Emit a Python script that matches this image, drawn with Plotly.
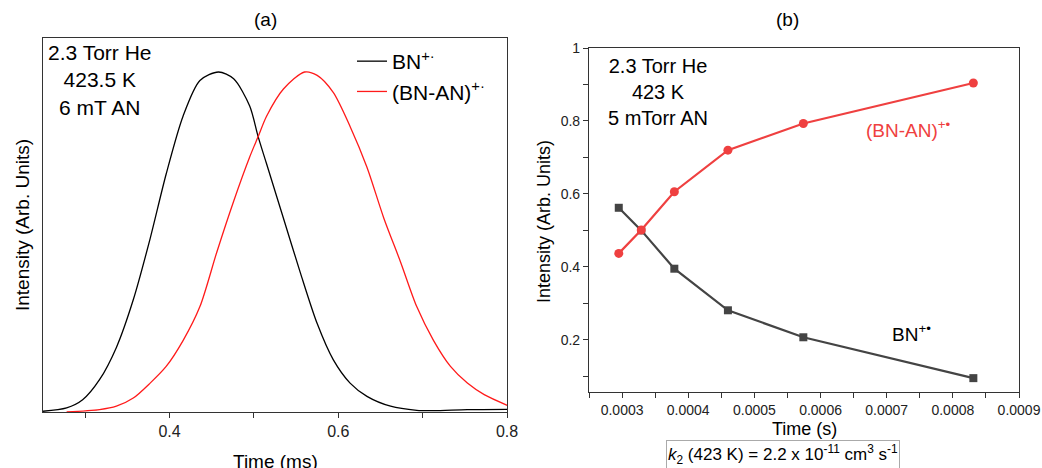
import plotly.graph_objects as go

# ---------- Panel (a) data: arrival-time distributions ----------
bn_t = [0.249, 0.278, 0.297, 0.317, 0.337, 0.357, 0.377, 0.396, 0.416, 0.436, 0.458,
        0.476, 0.495, 0.505, 0.515, 0.535, 0.555, 0.575, 0.594, 0.614, 0.634, 0.662,
        0.693, 0.713, 0.753, 0.801]
bn_i = [0.002, 0.012, 0.036, 0.095, 0.19, 0.33, 0.51, 0.70, 0.87, 0.975, 1.0,
        0.98, 0.90, 0.81, 0.73, 0.57, 0.41, 0.26, 0.154, 0.085, 0.046, 0.017,
        0.005, 0.004, 0.007, 0.008]
bnan_t = [0.278, 0.317, 0.337, 0.357, 0.377, 0.396, 0.416, 0.436, 0.456, 0.476, 0.495,
          0.505, 0.515, 0.535, 0.560, 0.575, 0.594, 0.614, 0.634, 0.654, 0.674, 0.693,
          0.713, 0.733, 0.753, 0.773, 0.801]
bnan_i = [0.0, 0.007, 0.017, 0.041, 0.085, 0.134, 0.21, 0.31, 0.47, 0.62, 0.75,
          0.81, 0.87, 0.95, 1.0, 0.99, 0.94, 0.84, 0.72, 0.57, 0.44, 0.31,
          0.21, 0.134, 0.085, 0.051, 0.019]
a_xticks = [0.4, 0.6, 0.8]
a_xticklabels = ["0.4", "0.6", "0.8"]

# ---------- Panel (b) data: kinetics ----------
kin_t = [0.000295, 0.000329, 0.000379, 0.000460, 0.000574, 0.000831]
kin_bnan = [0.437, 0.501, 0.606, 0.720, 0.793, 0.904]
kin_bn = [0.562, 0.500, 0.395, 0.281, 0.207, 0.095]
b_xticks = [0.0003, 0.0004, 0.0005, 0.0006, 0.0007, 0.0008, 0.0009]
b_xticklabels = ["0.0003", "0.0004", "0.0005", "0.0006", "0.0007", "0.0008", "0.0009"]
b_yticks = [0.2, 0.4, 0.6, 0.8, 1.0]
b_yticklabels = ["0.2", "0.4", "0.6", "0.8", "1"]

W, H = 1042, 468
FONT = "Liberation Sans, Arial, sans-serif"
RED_A = "#ff1a1a"
RED_B = "#ef4040"
GRAY_B = "#444444"

def px(x):
    return x / W

def py(y):
    return 1 - y / H

fig = go.Figure()

fig.add_trace(go.Scatter(x=bn_t, y=bn_i, mode="lines", name="BN<sup>+·</sup>",
                         line=dict(color="black", width=1.3, shape="spline", smoothing=0.8),
                         xaxis="x", yaxis="y"))
fig.add_trace(go.Scatter(x=bnan_t, y=bnan_i, mode="lines", name="(BN-AN)<sup>+·</sup>",
                         line=dict(color=RED_A, width=1.3, shape="spline", smoothing=0.8),
                         xaxis="x", yaxis="y"))

fig.add_trace(go.Scatter(x=kin_t, y=kin_bn, mode="lines+markers", showlegend=False,
                         line=dict(color=GRAY_B, width=2.2),
                         marker=dict(symbol="square", size=8, color=GRAY_B),
                         xaxis="x2", yaxis="y2"))
fig.add_trace(go.Scatter(x=kin_t, y=kin_bnan, mode="lines+markers", showlegend=False,
                         line=dict(color=RED_B, width=2.2),
                         marker=dict(symbol="circle", size=9, color=RED_B),
                         xaxis="x2", yaxis="y2"))

def axis_common(fs):
    return dict(showline=True, linecolor="#333333", linewidth=1.2, mirror=True,
                showgrid=False, zeroline=False, ticks="outside", tickcolor="#333333",
                ticklen=5, tickwidth=1.2, automargin=False,
                tickfont=dict(family=FONT, size=fs, color="#222222"))

fig.update_layout(
    autosize=True,
    margin=dict(l=0, r=0, t=0, b=0, autoexpand=False),
    paper_bgcolor="white", plot_bgcolor="white",
    font=dict(family=FONT, color="black"),
    xaxis=dict(domain=[px(43), px(507)], range=[0.25, 0.8], anchor="y",
               tickvals=a_xticks, ticktext=a_xticklabels,
               minor=dict(dtick=0.1, tick0=0.3, ticks="outside", ticklen=5,
                          tickcolor="#333333", tickwidth=1.2),
               **axis_common(16)),
    yaxis=dict(domain=[py(412), py(38)], range=[0, 1.1], anchor="x",
               showline=True, linecolor="#333333", linewidth=1.2, mirror=True,
               showgrid=False, zeroline=False, ticks="", showticklabels=False),
    xaxis2=dict(domain=[px(589), px(1019)], range=[0.00025, 0.0009], anchor="y2",
                tickvals=b_xticks, ticktext=b_xticklabels,
                minor=dict(dtick=0.0001, tick0=0.00025, ticks="outside", ticklen=5,
                           tickcolor="#333333", tickwidth=1.2),
                **axis_common(14)),
    yaxis2=dict(domain=[py(392), py(48)], range=[0.057, 1.0], anchor="x2",
                tickvals=b_yticks, ticktext=b_yticklabels,
                minor=dict(dtick=0.2, tick0=0.1, ticks="outside", ticklen=5,
                           tickcolor="#333333", tickwidth=1.2),
                **axis_common(14)),
    legend=dict(x=px(352), y=py(41), xanchor="left", yanchor="top",
                bgcolor="rgba(0,0,0,0)", font=dict(family=FONT, size=21),
                tracegroupgap=0),
    showlegend=True,
)

ann = []
def add(text, x, y, size=18, color="black", **kw):
    ann.append(dict(text=text, x=px(x), y=py(y), xref="paper", yref="paper",
                    showarrow=False, font=dict(family=FONT, size=size, color=color),
                    xanchor=kw.pop("xanchor", "center"), yanchor=kw.pop("yanchor", "middle"), **kw))

# Panel (a)
add("(a)", 265, 20, size=19)
add("2.3 Torr He<br>423.5 K<br>6 mT AN", 100, 80, size=21)
add("Time (ms)", 275, 461, size=19)
add("Intensity (Arb. Units)", 22, 225, size=19, textangle=-90)

# Panel (b)
add("(b)", 787, 20, size=19)
add("2.3 Torr He<br>423 K<br>5 mTorr AN", 658, 92, size=20)
add("(BN-AN)<sup>+•</sup>", 908, 129, size=19, color=RED_B)
add("BN<sup>+•</sup>", 911, 333, size=19)
add("Time (s)", 804, 429, size=18)
add("Intensity (Arb. Units)", 544, 222, size=18, textangle=-90)
add("<i>k</i><sub>2</sub> (423 K) = 2.2 x 10<sup>-11</sup> cm<sup>3</sup> s<sup>-1</sup>",
    783, 454, size=17, bordercolor="#aaaaaa", borderwidth=1, borderpad=1)

fig.update_layout(annotations=ann)

post = ("document.documentElement.style.margin='0';document.documentElement.style.overflow='hidden';"
        "document.body.style.margin='0';document.body.style.overflow='hidden';"
        "var gd=document.getElementById('{plot_id}');"
        "gd.style.width='" + str(W) + "px';gd.style.height='" + str(H) + "px';"
        "Plotly.relayout(gd,{width:" + str(W) + ",height:" + str(H) + "});")

fig.write_html("out.html", config={"displayModeBar": False},
               default_width=f"{W}px", default_height=f"{H}px",
               post_script=post)
